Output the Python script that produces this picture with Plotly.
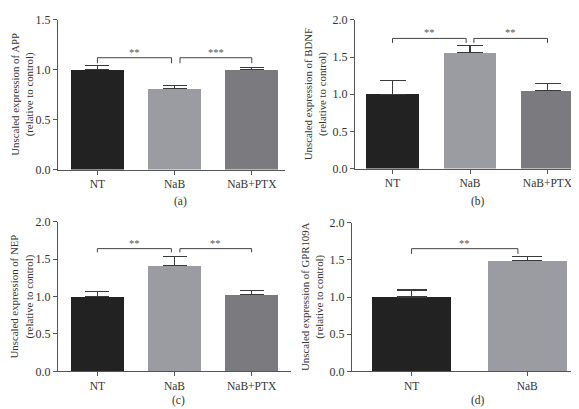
import plotly.graph_objects as go

# ---- data ----
cats3 = ["NT", "NaB", "NaB+PTX"]
cats2 = ["NT", "NaB"]

app_vals = [1.00, 0.81, 1.00]
app_err = [0.045, 0.03, 0.02]

bdnf_vals = [1.00, 1.56, 1.05]
bdnf_err = [0.18, 0.10, 0.09]

nep_vals = [1.00, 1.41, 1.03]
nep_err = [0.065, 0.13, 0.05]

gpr_vals = [1.00, 1.49]
gpr_err = [0.095, 0.055]

colors3 = ["#222222", "#9b9ca1", "#7b7b7f"]

titles = [
    "Unscaled expression of APP<br>(relative to control)",
    "Unscaled expression of BDNF<br>(relative to control)",
    "Unscaled expression of NEP<br>(relative to control)",
    "Unscaled expression of GPR109A<br>(relative to control)",
]
panel_labels = ["(a)", "(b)", "(c)", "(d)"]

# significance brackets: (from index, to index, height, label)
sig_a = [(0, 0.96, 1.12, "**"), (1.07, 2, 1.12, "***")]
sig_b = [(0, 0.95, 1.75, "**"), (1.05, 2, 1.75, "**")]
sig_c = [(0, 0.96, 1.64, "**"), (1.07, 2, 1.64, "**")]
sig_d = [(0, 0.92, 1.65, "**")]

FONT = "Liberation Serif, Times New Roman, serif"
AX = "#555555"
TXT = "#333333"

panels = [
    dict(cats=cats3, vals=app_vals, err=app_err, sig=sig_a, ymax=1.5, drop=0.055,
         xd=[50/579, 277/579], yd=[249/409, 404/409], xr=[-0.51, 2.43], bw=0.69, cap=12,
         tx=15, lx=172, ly=193),
    dict(cats=cats3, vals=bdnf_vals, err=bdnf_err, sig=sig_b, ymax=2.0, drop=0.06,
         xd=[347/579, 575/579], yd=[250/409, 404/409], xr=[-0.484, 2.458], bw=0.68, cap=13,
         tx=307, lx=470, ly=193),
    dict(cats=cats3, vals=nep_vals, err=nep_err, sig=sig_c, ymax=2.0, drop=0.05,
         xd=[50/579, 283/579], yd=[40/409, 195/409], xr=[-0.51, 2.51], bw=0.69, cap=12,
         tx=14, lx=170, ly=399),
    dict(cats=cats2, vals=gpr_vals, err=gpr_err, sig=sig_d, ymax=2.0, drop=0.07,
         xd=[344/579, 577/579], yd=[40/409, 194/409], xr=[-0.515, 1.50], bw=0.68, cap=15,
         tx=304, lx=470, ly=399),
]

fig = go.Figure()
annotations = []
for i, p in enumerate(panels):
    n = i + 1
    xa = "x" if n == 1 else f"x{n}"
    ya = "y" if n == 1 else f"y{n}"
    idx = list(range(len(p["cats"])))
    fig.add_trace(go.Bar(
        x=idx, y=p["vals"], xaxis=xa, yaxis=ya, width=p["bw"],
        marker=dict(color=colors3[:len(idx)], line=dict(width=0)),
        error_y=dict(type="data", array=p["err"], arrayminus=[0]*len(idx), symmetric=False,
                     color="#3a3a3a", thickness=1.2, width=p["cap"]),
        showlegend=False, hoverinfo="skip",
    ))
    for (a, b, h, lab) in p["sig"]:
        fig.add_trace(go.Scatter(
            x=[a, a, b, b], y=[h - p["drop"], h, h, h - p["drop"]], xaxis=xa, yaxis=ya,
            mode="lines", line=dict(color="#444444", width=1), showlegend=False, hoverinfo="skip",
        ))
        annotations.append(dict(x=(a + b) / 2, y=h, xref=xa, yref=ya, text=lab, showarrow=False,
                                yanchor="bottom", yshift=-2,
                                font=dict(family=FONT, size=10.5, color="#555555")))
    xkey = "xaxis" if n == 1 else f"xaxis{n}"
    ykey = "yaxis" if n == 1 else f"yaxis{n}"
    fig.update_layout(**{
        xkey: dict(domain=p["xd"], anchor=ya, range=p["xr"], tickmode="array",
                   tickvals=idx, ticktext=p["cats"], showgrid=False, zeroline=False,
                   showline=True, linecolor=AX, linewidth=1, ticks="outside", ticklen=4,
                   tickcolor=AX, tickfont=dict(family=FONT, size=11.5, color=TXT)),
        ykey: dict(domain=p["yd"], anchor=xa, range=[0, p["ymax"]], dtick=0.5, tickformat=".1f",
                   showgrid=False, zeroline=False, showline=True, linecolor=AX, linewidth=1,
                   ticks="outside", ticklen=4, tickcolor=AX,
                   tickfont=dict(family=FONT, size=12, color=TXT)),
    })
    ymid = 409 - (p["yd"][0] + p["yd"][1]) / 2 * 409
    annotations.append(dict(x=p["tx"] / 579, y=1 - ymid / 409, xref="paper", yref="paper",
                            text=titles[i], showarrow=False, textangle=-90,
                            xanchor="center", yanchor="middle", borderpad=0,
                            font=dict(family=FONT, size=10.8, color=TXT)))
    annotations.append(dict(x=p["lx"] / 579, y=1 - p["ly"] / 409, xref="paper", yref="paper",
                            text=panel_labels[i], showarrow=False, xanchor="center", yanchor="middle",
                            font=dict(family=FONT, size=11.5, color=TXT)))

fig.update_layout(
    width=579, height=409, margin=dict(l=0, r=0, t=0, b=0),
    paper_bgcolor="white", plot_bgcolor="white",
    annotations=annotations, bargap=0,
)
fig.write_html("out.html")
